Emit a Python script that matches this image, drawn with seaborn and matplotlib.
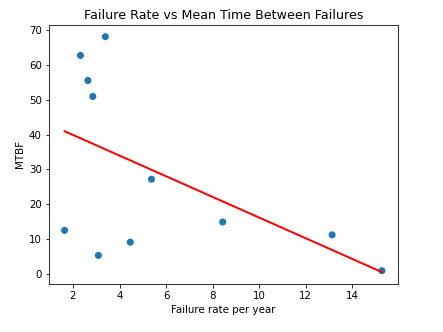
import numpy as np
import pandas as pd
import matplotlib
matplotlib.use("Agg")
import matplotlib.pyplot as plt
import seaborn as sns

# failure rate per year vs MTBF
failure_rate = [1.64, 2.32, 2.64, 2.85, 3.09, 3.39, 4.46, 5.37, 8.43, 13.13, 15.27]
mtbf = [12.5, 62.8, 55.6, 51.0, 5.3, 68.2, 9.1, 27.2, 14.9, 11.2, 0.9]

df = pd.DataFrame({'rate': failure_rate, 'mtbf': mtbf})

# least squares fit
m, b = np.polyfit(df.rate, df.mtbf, 1)
df['fit'] = m * df.rate + b

plt.rc('xtick', labelsize=10.3)
plt.rc('ytick', labelsize=10.3)
fig, ax = plt.subplots(figsize=(443/72, 332/72), dpi=72)
sns.scatterplot(x='rate', y='mtbf', data=df, ax=ax, s=50, color='#1f77b4', edgecolor='none')
sns.lineplot(x='rate', y='fit', data=df, ax=ax, color='red', linewidth=2)

ax.set_title('Failure Rate vs Mean Time Between Failures', fontsize=12.6)
ax.set_xlabel('Failure rate per year', fontsize=10.3)
ax.set_ylabel('MTBF', fontsize=10.3)
fig.subplots_adjust(left=0.11, right=0.898, top=0.925, bottom=0.145)

plt.savefig('out.png', dpi=72)
